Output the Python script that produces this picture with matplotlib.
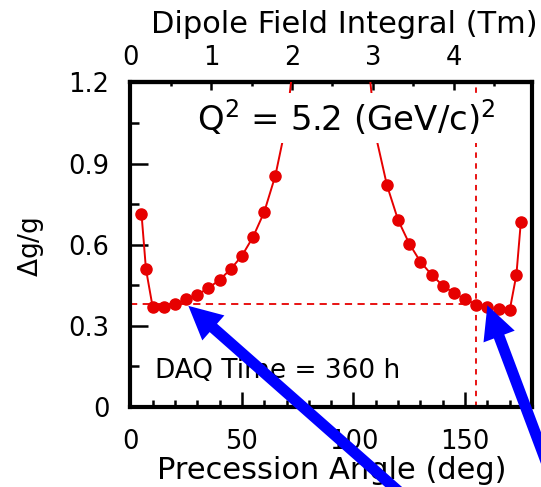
import numpy as np
import matplotlib
matplotlib.use('Agg')
import matplotlib.pyplot as plt
from matplotlib.ticker import MultipleLocator

# precession angle (deg) and relative error
angle_left = [5, 7, 10, 15, 20, 25, 30, 35, 40, 45, 50, 55, 60, 65, 70, 75]
dg_left = [0.715, 0.51, 0.37, 0.371, 0.381, 0.399, 0.415, 0.44, 0.47, 0.51,
           0.559, 0.629, 0.721, 0.856, 1.053, 1.42]
angle_right = [105, 110, 115, 120, 125, 130, 135, 140, 145, 150, 155, 160, 165, 170, 173, 175]
dg_right = [1.41, 1.003, 0.82, 0.691, 0.604, 0.537, 0.489, 0.449, 0.421, 0.399,
            0.379, 0.368, 0.361, 0.358, 0.489, 0.685]

best_dg = 0.38
best_angle = 155
tm_per_deg = 4.97 / 180.0   # top axis: dipole field integral

red = '#e60000'

fig = plt.figure(figsize=(5.41, 4.87), dpi=100)
ax = fig.add_axes([0.2409, 0.1643, 0.7425, 0.6663])

ax.plot(angle_left, dg_left, '-o', color=red, lw=1.4, ms=8, zorder=3)
ax.plot(angle_right, dg_right, '-o', color=red, lw=1.4, ms=8, zorder=3)
ax.plot([0, best_angle], [best_dg, best_dg], color=red, lw=1.3, dashes=(4, 3), zorder=2)
ax.plot([best_angle, best_angle], [0, 1.2], color=red, lw=1.3, dashes=(3, 3), zorder=2)

ax.set_xlim(0, 180)
ax.set_ylim(0, 1.2)
ax.xaxis.set_major_locator(MultipleLocator(50))
ax.xaxis.set_minor_locator(MultipleLocator(10))
ax.yaxis.set_major_locator(MultipleLocator(0.3))
ax.yaxis.set_minor_locator(MultipleLocator(0.15))
ax.set_yticks([0, 0.3, 0.6, 0.9, 1.2])
ax.set_yticklabels(['0', '0.3', '0.6', '0.9', '1.2'])

for s in ax.spines.values():
    s.set_linewidth(3)
ax.tick_params(axis='both', which='both', direction='in', width=1.8, labelsize=18.5)
ax.tick_params(axis='y', which='major', length=13, pad=15)
ax.tick_params(axis='y', which='minor', length=6.5)
ax.tick_params(axis='x', which='major', length=10.5, pad=16)
ax.tick_params(axis='x', which='minor', length=5.3)

sec = ax.secondary_xaxis('top', functions=(lambda d: d * tm_per_deg, lambda t: t / tm_per_deg))
sec.set_xticks([0, 1, 2, 3, 4])
sec.set_xticklabels(['0', '1', '2', '3', '4'])
sec.xaxis.set_minor_locator(MultipleLocator(0.5))
sec.spines['top'].set_linewidth(3)
sec.tick_params(axis='x', which='both', direction='in', width=1.8, labelsize=18.5)
sec.tick_params(axis='x', which='major', length=6, pad=8)
sec.tick_params(axis='x', which='minor', length=3)

ax.text(0.502, -0.222, 'Precession Angle (deg)', transform=ax.transAxes,
        ha='center', va='baseline', fontsize=22)
ax.text(0.532, 1.18, 'Dipole Field Integral (Tm)', transform=ax.transAxes,
        ha='center', va='center', fontsize=22)
ax.text(-0.247, 0.493, r'$\Delta$g/g', transform=ax.transAxes, rotation=90,
        ha='center', va='center', fontsize=19)

ax.text(0.166, 0.851, r'Q$^2$ = 5.2 (GeV/c)$^2$', transform=ax.transAxes,
        ha='left', va='baseline', fontsize=24.5, zorder=5,
        bbox=dict(facecolor='white', edgecolor='none', pad=4))
ax.text(0.0615, 0.089, 'DAQ Time = 360 h', transform=ax.transAxes,
        ha='left', va='baseline', fontsize=19, zorder=5)

# the two blue arrows pointing at the working points
arrow = dict(arrowstyle='simple,head_width=2.4,head_length=2.4,tail_width=0.8',
             mutation_scale=10, fc='blue', ec='none', shrinkA=0, shrinkB=0)
ax.annotate('', xy=(26, 0.374), xycoords='data', xytext=(405, -10),
            textcoords='figure pixels', arrowprops=arrow, annotation_clip=False, zorder=6)
ax.annotate('', xy=(160, 0.376), xycoords='data', xytext=(550, 15),
            textcoords='figure pixels', arrowprops=arrow, annotation_clip=False, zorder=6)

plt.savefig('out.png', dpi=100)
